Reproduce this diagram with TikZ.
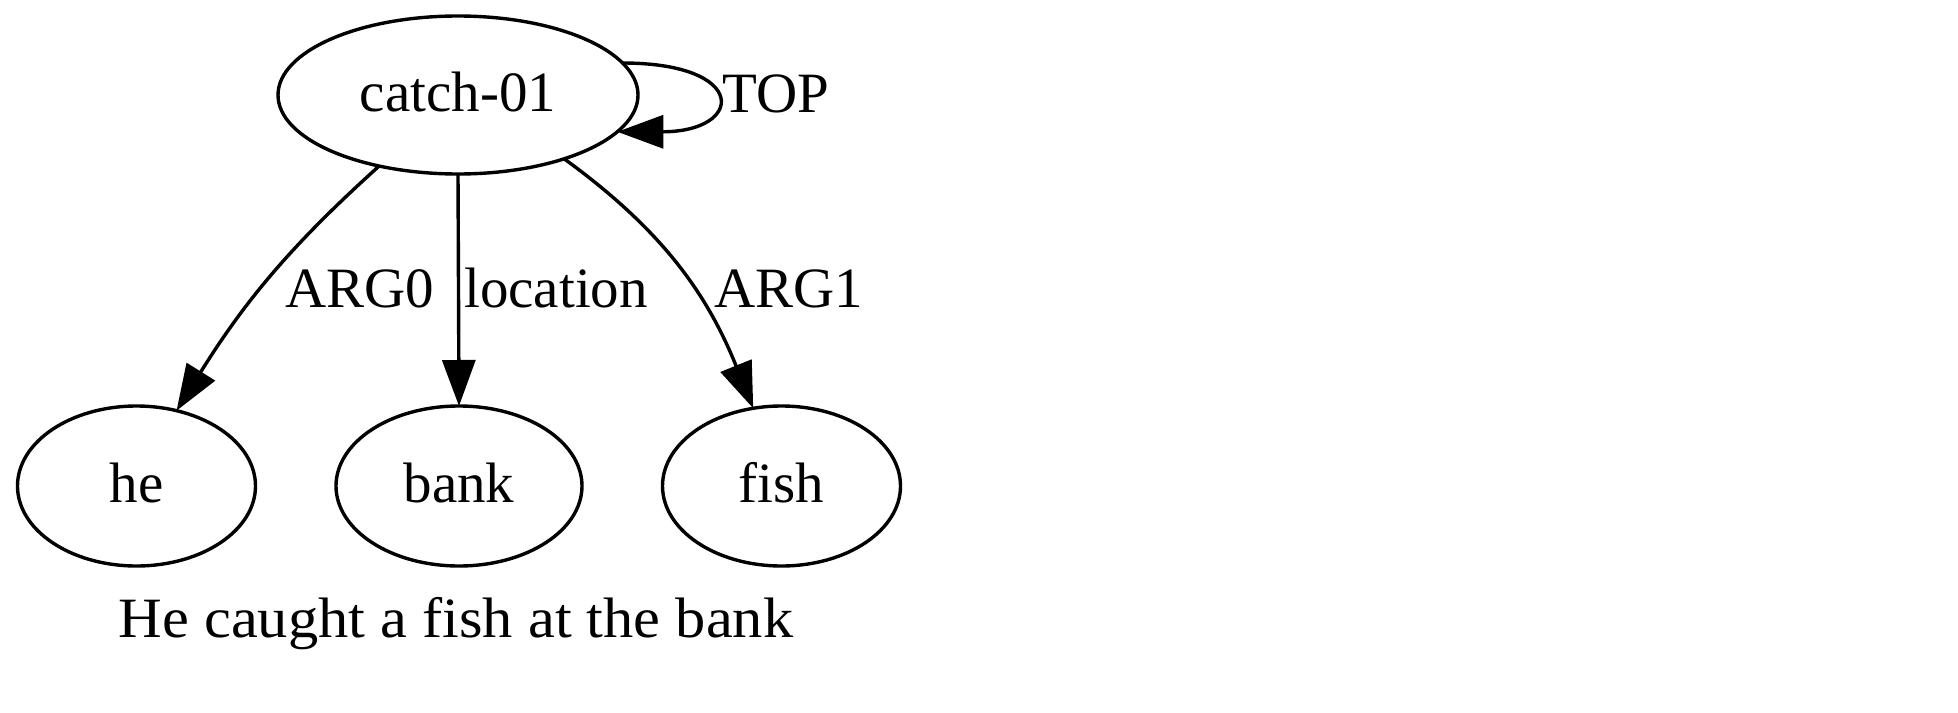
\documentclass[tikz,border=0pt]{standalone}
\usepackage{fontspec}
\usepackage{graphicx}
\setmainfont{Liberation Serif}
\usetikzlibrary{arrows.meta,shapes.geometric}
\begin{document}
\begin{tikzpicture}[x=0.5pt,y=-0.5pt,
  every node/.style={font=\fontsize{28.5pt}{34pt}\selectfont},
  amrnode/.style={draw, ellipse, line width=1.7pt, inner sep=0pt, outer sep=0pt,
    text height=22pt, text depth=5.5pt},
  edgelbl/.style={anchor=base, inner sep=0pt},
  edge/.style={line width=1.7pt, -{Triangle[length=23pt,width=16.5pt]}}]
\fill[white] (0,0) rectangle (1958,712);
\node[amrnode, minimum width=180pt, minimum height=79pt] (catch) at (458,95) {catch-01};
\node[amrnode, minimum width=119pt, minimum height=80pt] (he) at (136.5,486) {he};
\node[amrnode, minimum width=123pt, minimum height=80pt] (bank) at (459,486) {bank};
\node[amrnode, minimum width=119pt, minimum height=80pt] (fish) at (781.5,486) {fish};
\node[edgelbl] (lARG0) at (360,307) {ARG0};
\node[edgelbl] (lloc) at (556,307) {location};
\node[edgelbl] (lARG1) at (789,307) {ARG1};
\node[edgelbl] (lTOP) at (776,112) {TOP};
\node[edgelbl] (caption) at (456,637) {\scalebox{1.06}[1]{He caught a fish at the bank}};
\draw[edge] (catch.222) to[out=-138,in=58] (he.62);
\draw[edge] (catch.south) -- (bank.north);
\draw[edge] (catch.-31) to[out=-36,in=112] (fish.110);
\draw[edge] (catch.11) .. controls +(127,0) and +(127,0) .. (catch.-13);
\end{tikzpicture}
\end{document}
